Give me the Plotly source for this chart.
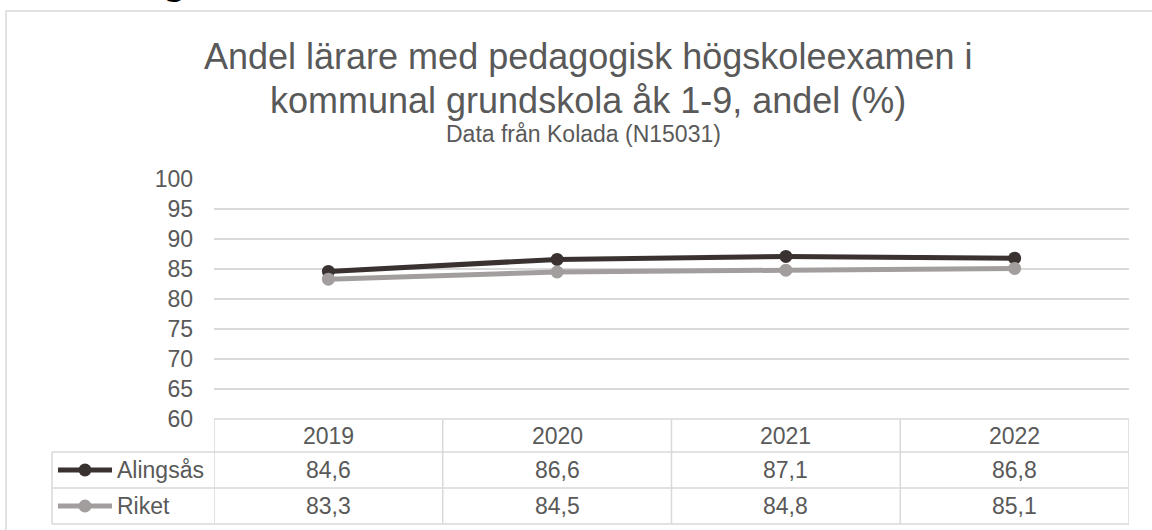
import plotly.graph_objects as go

# data
years = ["2019", "2020", "2021", "2022"]
alingsas = [84.6, 86.6, 87.1, 86.8]
riket = [83.3, 84.5, 84.8, 85.1]
series_names = ["Alingsås", "Riket"]
series_colors = ["#3a3230", "#a29e9d"]

title_1 = "Andel lärare med pedagogisk högskoleexamen i"
title_2 = "kommunal grundskola åk 1-9, andel (%)"
subtitle = "Data från Kolada (N15031)"

W, H = 1152, 530
L, R, T, B = 214, 23, 179, 111
PW, PH = W - L - R, H - T - B
TXT = "#595959"
GRID = "#d9d9d9"
FONT = "Arial, Liberation Sans, sans-serif"


def px(x):
    return (x - L) / PW


def py(y):
    return (H - B - y) / PH


def fmt(v):
    return f"{v:.1f}".replace(".", ",")


def label(text, x, y, size=23, xref="paper", **kw):
    return dict(text=text, xref=xref, yref="paper", x=x, y=py(y),
                xanchor=kw.pop("xanchor", "center"), yanchor=kw.pop("yanchor", "middle"),
                showarrow=False, font=dict(size=size, color=kw.pop("color", TXT)), **kw)


fig = go.Figure()
for name, vals, col in zip(series_names, [alingsas, riket], series_colors):
    fig.add_trace(go.Scatter(x=years, y=vals, name=name, mode="lines+markers",
                             line=dict(color=col, width=5),
                             marker=dict(color=col, size=13),
                             cliponaxis=False))

shapes = []
line = dict(color=GRID, width=1.5)
# outer chart frame (extends past the right/bottom edge)
shapes.append(dict(type="rect", xref="paper", yref="paper", x0=px(6), x1=px(1170),
                   y0=py(540), y1=py(11), line=line, layer="below"))
# data table grid
shapes.append(dict(type="line", xref="paper", yref="paper", x0=px(214), x1=px(1129),
                   y0=py(419), y1=py(419), line=line))
for yy in [452, 488, 524]:
    shapes.append(dict(type="line", xref="paper", yref="paper", x0=px(52), x1=px(1129),
                       y0=py(yy), y1=py(yy), line=line))
shapes.append(dict(type="line", xref="paper", yref="paper", x0=px(52), x1=px(52),
                   y0=py(452), y1=py(524), line=line))
for xx in [-0.5, 0.5, 1.5, 2.5, 3.5]:
    shapes.append(dict(type="line", xref="x", yref="paper", x0=xx, x1=xx,
                       y0=py(419), y1=py(524), line=line))

annotations = []
row_y = [470, 506]
for name, col, ry in zip(series_names, series_colors, row_y):
    # legend key drawn inside the table
    shapes.append(dict(type="line", xref="paper", yref="paper", x0=px(58), x1=px(112),
                       y0=py(ry), y1=py(ry), line=dict(color=col, width=5)))
    shapes.append(dict(type="circle", xref="paper", yref="paper", x0=px(78.5), x1=px(91.5),
                       y0=py(ry + 6.5), y1=py(ry - 6.5), fillcolor=col, line=dict(width=0)))
    annotations.append(label(name, px(115), ry, xanchor="left"))

for i, yr in enumerate(years):
    annotations.append(label(yr, i, 436, xref="x"))
    for vals, ry in zip([alingsas, riket], row_y):
        annotations.append(label(fmt(vals[i]), i, ry, xref="x"))

annotations += [
    label(title_1, px(588), 56, size=36),
    label(title_2, px(588), 100, size=36),
    label(subtitle, px(583), 134),
    # bottom of a heading that sits above the chart, cut off by the page
    label("<b>g</b>", px(174), 3.5, size=40, color="black", yanchor="bottom"),
]

fig.update_layout(
    width=W, height=H, margin=dict(l=L, r=R, t=T, b=B),
    paper_bgcolor="white", plot_bgcolor="white",
    font=dict(family=FONT, color=TXT),
    showlegend=False,
    shapes=shapes, annotations=annotations,
    xaxis=dict(type="category", range=[-0.5, 3.5], showticklabels=False,
               showgrid=False, zeroline=False, showline=False),
    yaxis=dict(range=[60, 100], tickvals=[60, 65, 70, 75, 80, 85, 90, 95, 100],
               showgrid=True, gridcolor=GRID, gridwidth=1.5, zeroline=False,
               showline=False, ticks="", ticklabelstandoff=20,
               tickfont=dict(size=23, color=TXT)),
)

fig.write_html("out.html", config={"displayModeBar": False},
               post_script="document.body.style.margin = '0';")
